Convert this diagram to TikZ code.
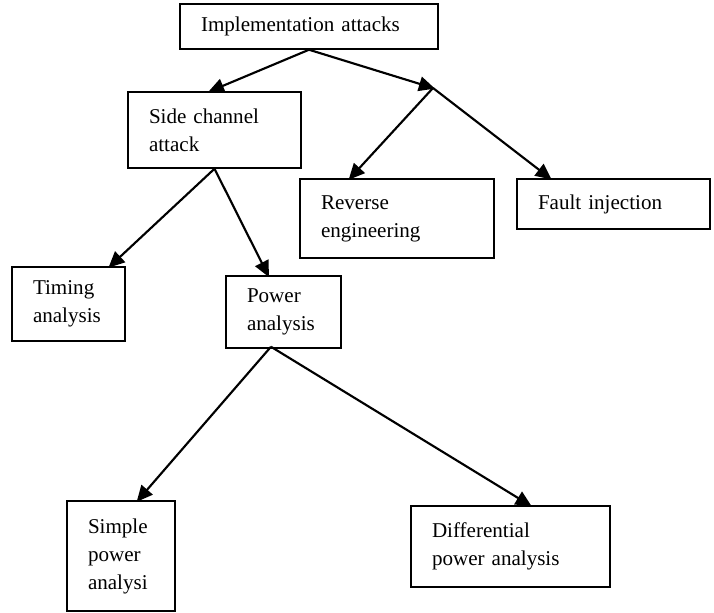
\documentclass[tikz,border=0pt]{standalone}
\usepackage{fontspec}
\setmainfont{Liberation Serif}
\usetikzlibrary{arrows.meta, positioning, calc}

\begin{document}
\begin{tikzpicture}[x=0.75pt, y=-0.75pt,
    box/.style={rectangle, draw, line width=1.1pt, inner xsep=15.75pt, inner ysep=0pt,
        align=left, font=\fontsize{15.8}{21}\selectfont},
    link/.style={-{Triangle[length=12pt, width=11pt]}, line width=1.6pt, shorten >=-1.5pt}]
    \useasboundingbox (0,0) rectangle (714,613);

    % top level
    \node[box, minimum width=193.5pt, minimum height=33.75pt, text width=162pt]
        (impl) at (309,26.5) {Implementation attacks};
    \coordinate (fork) at (433,88);

    % second level
    \node[box, minimum width=129.75pt, minimum height=57pt, text width=98.25pt]
        (side) at (214.5,130) {Side channel\\attack};
    \node[box, minimum width=145.5pt, minimum height=59.25pt, text width=114pt]
        (rev) at (397,218.5) {Reverse\\engineering};
    \node[box, minimum width=144.75pt, minimum height=37.5pt, text width=113.25pt]
        (fault) at (613.5,204) {Fault injection};

    % side channel branches
    \node[box, minimum width=84.75pt, minimum height=55.5pt, text width=53.25pt]
        (timing) at (68.5,304) {Timing\\analysis};
    \node[box, minimum width=86.25pt, minimum height=54pt, text width=54.75pt]
        (power) at (283.5,312) {Power\\analysis};

    % power analysis branches
    \node[box, minimum width=81pt, minimum height=82.5pt, text width=49.5pt]
        (simple) at (121,556) {Simple\\power\\analysi};
    \node[box, minimum width=149.25pt, minimum height=60.75pt, text width=117.75pt]
        (diff) at (510.5,546.5) {Differential\\power analysis};

    % arrows
    \draw[link] (impl.south) -- ([xshift=-3.4pt]side.north);
    \draw[link] (impl.south) -- (fork);
    \draw[link] (fork) -- ([xshift=-35.25pt]rev.north);
    \draw[link] (fork) -- ([xshift=-47.6pt]fault.north);
    \draw[link] (side.south) -- ([xshift=31.1pt]timing.north);
    \draw[link] (side.south) -- ([xshift=-11.6pt]power.north);
    \draw[link] ([xshift=-9.4pt, yshift=1.5pt]power.south) -- ([xshift=12.75pt]simple.north);
    \draw[link] ([xshift=-9.4pt, yshift=1.5pt]power.south) -- ([xshift=14.6pt]diff.north);
\end{tikzpicture}
\end{document}
